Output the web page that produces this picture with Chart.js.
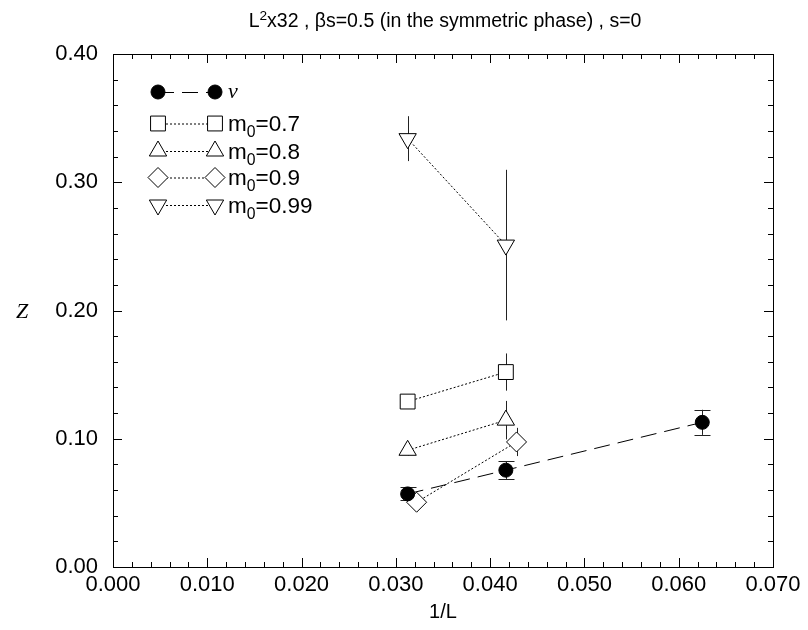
<!DOCTYPE html>
<html>
<head>
<meta charset="utf-8">
<script src="https://cdn.jsdelivr.net/npm/chart.js@4/dist/chart.umd.min.js"></script>
<style>
  html, body { margin: 0; padding: 0; background: #fff; }
  #wrap { width: 808px; height: 630px; position: relative; }
</style>
</head>
<body>
<div id="wrap"><canvas id="grafico"></canvas></div>
<script>
// Datos: Z frente a 1/L para cada m0 (x = 1/L)
const xNu = [1 / 32, 1 / 24, 1 / 16];
const zNu = [0.057, 0.0755, 0.1128];
const errNu = [0.005, 0.0068, 0.0098];

const x07 = [1 / 32, 1 / 24];
const z07 = [0.129, 0.152];
const err07 = [0.003, 0.0145];

const x08 = [1 / 32, 1 / 24];
const z08 = [0.091, 0.1145];
const err08 = [0.004, 0.015];

const x09 = [0.0322, 0.0428];
const z09 = [0.0505, 0.0975];
const err09 = [0.004, 0.011];

const x099 = [1 / 32, 1 / 24];
const z099 = [0.334, 0.251];
const err099 = [0.0175, 0.0587];

const ticksX = [0, 0.01, 0.02, 0.03, 0.04, 0.05, 0.06, 0.07];
const ticksY = [0, 0.1, 0.2, 0.3, 0.4];

const titulo = "L2x32 , \u03b2s=0.5 (in the symmetric phase) , s=0";
const etiquetas = ["\u03bd", "m0=0.7", "m0=0.8", "m0=0.9", "m0=0.99"];

// Funciones auxiliares

function puntos(xs, ys) {
  return xs.map((x, i) => ({ x: x, y: ys[i] }));
}

function serie(xs, ys, errs, estilo) {
  return Object.assign({
    data: puntos(xs, ys),
    errores: errs,
    showLine: true,
    borderColor: '#000',
    borderWidth: 1,
    pointBorderColor: '#000',
    pointBorderWidth: 1,
    pointBackgroundColor: '#fff',
    pointHoverRadius: 0
  }, estilo);
}

const datasets = [
  serie(xNu, zNu, errNu, { label: etiquetas[0], pointStyle: 'circle', pointRadius: 7,
    pointBackgroundColor: '#000', borderDash: [16, 8], tapas: true }),
  serie(x07, z07, err07, { label: etiquetas[1], pointStyle: 'rect', pointRadius: 10.5, borderDash: [2, 2] }),
  serie(x08, z08, err08, { label: etiquetas[2], pointStyle: 'triangle', pointRadius: 10, borderDash: [2, 2] }),
  serie(x09, z09, err09, { label: etiquetas[3], pointStyle: 'rectRot', pointRadius: 10, borderDash: [2, 2] }),
  serie(x099, z099, err099, { label: etiquetas[4], pointStyle: 'triangle', pointRotation: 180, pointRadius: 10, borderDash: [2, 2] })
];

// Barras de error (debajo de los marcadores)
const barrasError = {
  id: 'barrasError',
  beforeDatasetsDraw(chart) {
    const ctx = chart.ctx;
    const sx = chart.scales.x, sy = chart.scales.y;
    ctx.save();
    ctx.strokeStyle = '#222';
    ctx.lineWidth = 1;
    chart.data.datasets.forEach(ds => {
      ds.data.forEach((p, i) => {
        const px = Math.round(sx.getPixelForValue(p.x)) + 0.5;
        const y1 = sy.getPixelForValue(p.y - ds.errores[i]);
        const y2 = sy.getPixelForValue(p.y + ds.errores[i]);
        ctx.beginPath();
        ctx.moveTo(px, y1);
        ctx.lineTo(px, y2);
        if (ds.tapas) {
          ctx.moveTo(px - 8, Math.round(y1) + 0.5);
          ctx.lineTo(px + 8, Math.round(y1) + 0.5);
          ctx.moveTo(px - 8, Math.round(y2) + 0.5);
          ctx.lineTo(px + 8, Math.round(y2) + 0.5);
        }
        ctx.stroke();
      });
    });
    ctx.restore();
  }
};

// Marco con marcas hacia dentro en los cuatro lados
const marco = {
  id: 'marco',
  afterDatasetsDraw(chart) {
    const ctx = chart.ctx;
    const a = chart.chartArea;
    const sx = chart.scales.x, sy = chart.scales.y;
    ctx.save();
    ctx.strokeStyle = '#000';
    ctx.lineWidth = 1;
    ctx.strokeRect(Math.round(a.left) + 0.5, Math.round(a.top) + 0.5,
      Math.round(a.right - a.left), Math.round(a.bottom - a.top));
    ctx.beginPath();
    for (let k = 0; k <= 35; k++) {
      const v = k * 0.002;
      const px = Math.round(sx.getPixelForValue(v)) + 0.5;
      const len = k % 5 === 0 ? 9 : 5;
      ctx.moveTo(px, a.bottom); ctx.lineTo(px, a.bottom - len);
      ctx.moveTo(px, a.top); ctx.lineTo(px, a.top + len);
    }
    for (let k = 0; k <= 20; k++) {
      const v = k * 0.02;
      const py = Math.round(sy.getPixelForValue(v)) + 0.5;
      const len = k % 5 === 0 ? 9 : 5;
      ctx.moveTo(a.left, py); ctx.lineTo(a.left + len, py);
      ctx.moveTo(a.right, py); ctx.lineTo(a.right - len, py);
    }
    ctx.stroke();
    ctx.restore();
  }
};

// Marcador para la leyenda, igual que los puntos de la serie
function marcador(ctx, ds, x, y) {
  ctx.save();
  ctx.fillStyle = ds.pointBackgroundColor;
  ctx.strokeStyle = '#000';
  ctx.lineWidth = 1;
  ctx.setLineDash([]);
  Chart.helpers.drawPoint(ctx, {
    pointStyle: ds.pointStyle,
    rotation: ds.pointRotation || 0,
    radius: ds.pointRadius,
    borderWidth: 1
  }, x, y);
  ctx.restore();
}

// Texto con subindice o superindice: partes [texto, tipo]
function textoCompuesto(ctx, partes, x, y, tam, familia) {
  let cx = x;
  partes.forEach(([t, tipo]) => {
    let dy = 0, f = tam;
    if (tipo === 'sub') { f = tam * 0.7; dy = tam * 0.28; }
    if (tipo === 'sup') { f = tam * 0.7; dy = -tam * 0.38; }
    ctx.font = f + 'px ' + familia;
    ctx.fillText(t, cx, y + dy);
    cx += ctx.measureText(t).width;
  });
  return cx - x;
}

function anchoCompuesto(ctx, partes, tam, familia) {
  let w = 0;
  partes.forEach(([t, tipo]) => {
    const f = tipo ? tam * 0.7 : tam;
    ctx.font = f + 'px ' + familia;
    w += ctx.measureText(t).width;
  });
  return w;
}

const textos = {
  id: 'textos',
  afterDraw(chart) {
    const ctx = chart.ctx;
    const fam = '"Liberation Sans", Arial, sans-serif';
    ctx.save();
    ctx.fillStyle = '#000';
    ctx.textBaseline = 'alphabetic';
    ctx.textAlign = 'left';

    // Titulo
    const partesTitulo = [['L', ''], ['2', 'sup'], [titulo.slice(2), '']];
    const tamT = 19.5;
    const wT = anchoCompuesto(ctx, partesTitulo, tamT, fam);
    textoCompuesto(ctx, partesTitulo, 445 - wT / 2, 27, tamT, fam);

    // Eje Y: Z
    ctx.font = 'italic 22px "Liberation Serif", "Times New Roman", serif';
    ctx.fillText('Z', 16, 318);

    // Leyenda
    const filasY = [92, 123.5, 151, 177.5, 205];
    chart.data.datasets.forEach((ds, i) => {
      const y = filasY[i];
      const x1 = 158, x2 = 215;
      ctx.save();
      ctx.strokeStyle = '#000';
      ctx.lineWidth = 1;
      ctx.setLineDash(ds.borderDash);
      ctx.beginPath();
      ctx.moveTo(x1, y + 0.5);
      ctx.lineTo(x2, y + 0.5);
      ctx.stroke();
      ctx.restore();
      marcador(ctx, ds, x1, y);
      marcador(ctx, ds, x2, y);
      if (i === 0) {
        ctx.font = 'italic 22px "Liberation Serif", "Times New Roman", serif';
        ctx.fillText(ds.label, 228, y + 6);
      } else {
        const partes = [['m', ''], ['0', 'sub'], [ds.label.slice(2), '']];
        textoCompuesto(ctx, partes, 228, y + 7.5, 22.5, fam);
      }
    });
    ctx.restore();
  }
};

const fuenteEjes = { family: '"Liberation Sans", Arial, sans-serif', size: 22 };

new Chart(document.getElementById('grafico'), {
  type: 'scatter',
  data: { datasets: datasets },
  options: {
    responsive: true,
    maintainAspectRatio: false,
    animation: false,
    events: [],
    layout: { padding: { top: 54, right: 35, left: 0, bottom: 0 } },
    plugins: { legend: { display: false }, tooltip: { enabled: false } },
    scales: {
      x: {
        type: 'linear',
        min: 0,
        max: 0.07,
        afterFit(s) { s.height = 63; },
        afterBuildTicks(s) { s.ticks = ticksX.map(v => ({ value: v })); },
        grid: { display: false, drawTicks: false },
        border: { display: false },
        ticks: { color: '#000', font: fuenteEjes, padding: 5, maxRotation: 0,
          callback: v => Number(v).toFixed(3) },
        title: { display: true, text: '1/L', color: '#000',
          font: { family: fuenteEjes.family, size: 20 }, padding: { top: 0, bottom: 6 } }
      },
      y: {
        type: 'linear',
        min: 0,
        max: 0.4,
        afterFit(s) { s.width = 113; },
        afterBuildTicks(s) { s.ticks = ticksY.map(v => ({ value: v })); },
        grid: { display: false, drawTicks: false },
        border: { display: false },
        ticks: { color: '#000', font: fuenteEjes, padding: 15,
          callback: v => Number(v).toFixed(2) }
      }
    }
  },
  plugins: [barrasError, marco, textos]
});
</script>
</body>
</html>
